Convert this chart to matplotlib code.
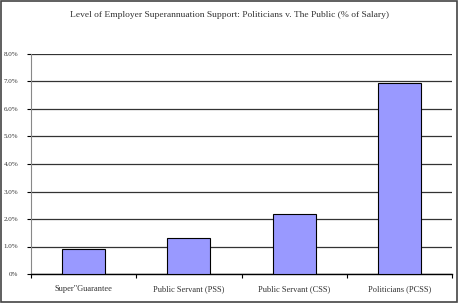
import matplotlib.pyplot as plt
from matplotlib.patches import Rectangle
import numpy as np

categories = ['Super"Guarantee', 'Public Servant (PSS)', 'Public Servant (CSS)', 'Politicians (PCSS)']
values = [0.9, 1.3, 2.2, 6.95]
yticks = [0, 1, 2, 3, 4, 5, 6, 7, 8]
ytick_labels = ['0%', '1.0%', '2.0%', '3.0%', '4.0%', '5.0%', '6.0%', '7.0%', '8.0%']
title = 'Level of Employer Superannuation Support: Politicians v. The Public (% of Salary)'

plt.rcParams['font.family'] = 'Liberation Serif'

fig = plt.figure(figsize=(4.58, 3.03), dpi=100)
ax = fig.add_axes([31 / 458, 29 / 303, 421 / 458, 220 / 303])

x = np.arange(len(categories))
ax.bar(x, values, width=0.41, color='#9999ff', edgecolor='black', linewidth=0.8, zorder=3)

ax.set_xlim(-0.5, len(categories) - 0.5)
ax.set_ylim(0, 8)
ax.set_yticks(yticks)
ax.set_yticklabels(ytick_labels, fontsize=5, color='#333333')
ax.yaxis.grid(True, color='#333333', linewidth=0.9, zorder=0)

# category labels between boundary ticks
ax.set_xticks(np.arange(-0.5, len(categories), 1.0))
ax.set_xticklabels([])
ax.set_xticks(x, minor=True)
ax.set_xticklabels(categories, minor=True, fontsize=6, color='#333333')
ax.tick_params(axis='x', which='minor', length=0, pad=8)
ax.tick_params(axis='x', which='major', length=3, width=0.8, direction='out')
ax.tick_params(axis='y', length=3, width=0.8, direction='out', pad=6)

for side in ['top', 'right']:
    ax.spines[side].set_visible(False)
ax.spines['left'].set_color('#888888')
ax.spines['bottom'].set_color('black')
ax.spines['bottom'].set_linewidth(1.0)

fig.text(0.5, 1 - 15 / 303, title, ha='center', va='center', fontsize=6.8, color='#333333')

fig.patches.append(Rectangle((0.002, 0.003), 0.995, 0.994, transform=fig.transFigure,
                             fill=False, edgecolor='#444444', linewidth=1.2))

fig.savefig('out.png', dpi=100)
